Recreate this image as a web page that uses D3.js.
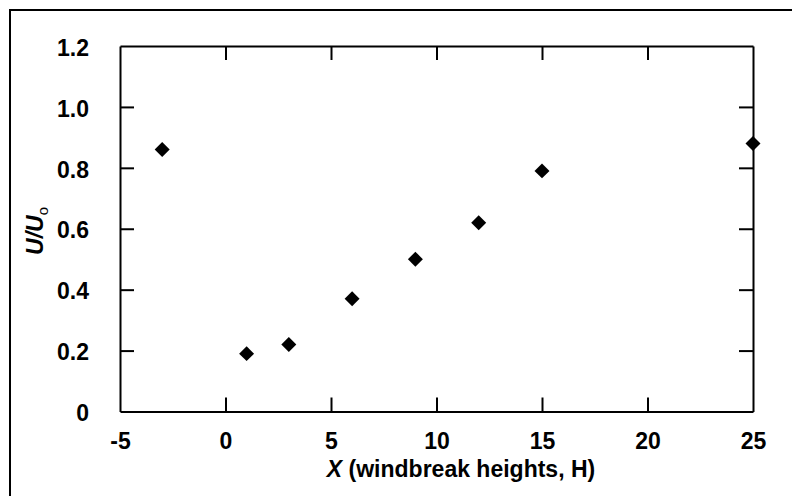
<!DOCTYPE html>
<html>
<head>
<meta charset="utf-8">
<script src="https://cdn.jsdelivr.net/npm/d3@7"></script>
<style>
  body { margin: 0; background: #fff; }
  svg { display: block; }
  text { font-family: "Liberation Sans", Arial, sans-serif; font-weight: bold; fill: #000; }
</style>
</head>
<body>
<svg id="chart" width="792" height="496"></svg>
<script>
const xValues = [-3, 1, 3, 6, 9, 12, 15, 25];
const yValues = [0.86, 0.19, 0.22, 0.37, 0.50, 0.62, 0.79, 0.88];
const xTicks = [-5, 0, 5, 10, 15, 20, 25];
const xTickLabels = ["-5", "0", "5", "10", "15", "20", "25"];
const yTicks = [0, 0.2, 0.4, 0.6, 0.8, 1.0, 1.2];
const yTickLabels = ["0", "0.2", "0.4", "0.6", "0.8", "1.0", "1.2"];

const svg = d3.select("#chart");
const mLeft = 120, mRight = 753, mTop = 46, mBottom = 411.5;

const x = d3.scaleLinear().domain([-5, 25]).range([mLeft, mRight]);
const y = d3.scaleLinear().domain([0, 1.2]).range([mBottom, mTop]);

// outer frame
svg.append("rect").attr("x", 10).attr("y", 10).attr("width", 800).attr("height", 500)
  .attr("fill", "none").attr("stroke", "#000").attr("stroke-width", 2);

const tickLen = 14;
const gx = svg.append("g").attr("transform", `translate(0,${mBottom})`)
  .call(d3.axisBottom(x).tickValues(xTicks).tickSizeInner(-tickLen).tickSizeOuter(0).tickPadding(21)
    .tickFormat((d, i) => xTickLabels[i]));
const gxt = svg.append("g").attr("transform", `translate(0,${mTop})`)
  .call(d3.axisTop(x).tickValues(xTicks).tickSizeInner(-tickLen).tickSizeOuter(0).tickFormat(""));
const gy = svg.append("g").attr("transform", `translate(${mLeft},0)`)
  .call(d3.axisLeft(y).tickValues(yTicks).tickSizeInner(-tickLen).tickSizeOuter(0).tickPadding(31)
    .tickFormat((d, i) => yTickLabels[i]));
const gyr = svg.append("g").attr("transform", `translate(${mRight},0)`)
  .call(d3.axisRight(y).tickValues(yTicks).tickSizeInner(-tickLen).tickSizeOuter(0).tickFormat(""));

[gx, gxt, gy, gyr].forEach(g => {
  g.select(".domain").attr("stroke", "#000").attr("stroke-width", 2);
  g.selectAll(".tick line").attr("stroke", "#000").attr("stroke-width", 2);
  g.selectAll(".tick text").style("font-size", "23px").attr("font-family", null).attr("fill", "#000");
});
gy.selectAll(".tick").filter(d => d === 0 || d === 1.2).select("line").remove();
gyr.selectAll(".tick").filter(d => d === 0 || d === 1.2).select("line").remove();
gx.selectAll(".tick").filter(d => d === -5 || d === 25).select("line").remove();
gxt.selectAll(".tick").filter(d => d === -5 || d === 25).select("line").remove();
gy.selectAll(".tick text").attr("dy", "0.40em");
gx.selectAll(".tick text").attr("dy", "0.71em");

svg.append("g").selectAll("path").data(xValues.map((v, i) => [v, yValues[i]])).join("path")
  .attr("d", d3.symbol(d3.symbolSquare, 112))
  .attr("transform", d => `translate(${x(d[0])},${y(d[1])}) rotate(45)`)
  .attr("fill", "#000");

const xt = svg.append("text").attr("x", 461).attr("y", 477).attr("text-anchor", "middle").style("font-size", "23px");
xt.append("tspan").style("font-style", "italic").text("X");
xt.append("tspan").text(" (windbreak heights, H)");

const yt = svg.append("text").attr("transform", "translate(43,231) rotate(-90)").attr("text-anchor", "middle").style("font-size", "23px");
yt.append("tspan").style("font-style", "italic").text("U/U");
yt.append("tspan").attr("dy", "0.3em").style("font-size", "15px").style("font-weight", "normal").text("o");
</script>
</body>
</html>
